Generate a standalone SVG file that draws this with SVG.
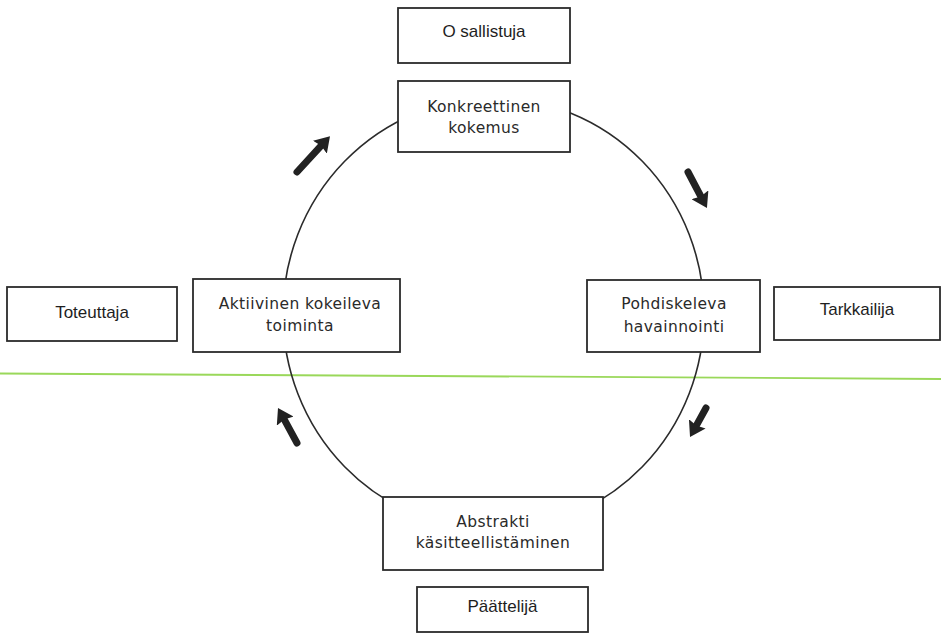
<svg xmlns="http://www.w3.org/2000/svg" width="941" height="642" viewBox="0 0 941 642">
  <style>
    .box { fill: #ffffff; stroke: #2b2b2b; stroke-width: 1.8; }
    .stage { font-family: "DejaVu Sans", "Liberation Sans", sans-serif; font-size: 15.5px; letter-spacing: 0.4px; fill: #2a2a2a; text-anchor: middle; }
    .role { font-family: "Liberation Sans", Arial, sans-serif; font-size: 17px; fill: #1e1e1e; text-anchor: middle; }
    .cycle { fill: none; stroke: #2b2b2b; stroke-width: 1.6; }
    .arrow { stroke: #222222; stroke-width: 7; stroke-linecap: round; marker-end: url(#head); }
  </style>
  <defs>
    <marker id="head" viewBox="0 0 15 19" refX="2" refY="9.5" markerWidth="15" markerHeight="19" markerUnits="userSpaceOnUse" orient="auto">
      <path d="M0,0 L15,9.5 L0,19 L2,9.5 z" fill="#222222"/>
    </marker>
  </defs>

  <rect x="0" y="0" width="941" height="642" fill="#ffffff"/>

  <!-- horizontal guide line -->
  <line x1="0" y1="373.5" x2="941" y2="379" stroke="#9ad85a" stroke-width="1.8"/>

  <!-- cycle and direction arrows -->
  <g id="connectors">
    <ellipse class="cycle" cx="493.5" cy="314" rx="210.5" ry="216"/>
    <line class="arrow" x1="297" y1="172" x2="321.2" y2="145.7"/>
    <line class="arrow" x1="688" y1="172" x2="700.9" y2="196.5"/>
    <line class="arrow" x1="706" y1="408" x2="696.3" y2="425.6"/>
    <line class="arrow" x1="297" y1="443" x2="284.2" y2="419.4"/>
  </g>

  <g id="osallistuja">
    <rect class="box" x="398" y="8" width="172" height="55"/>
    <text class="role" x="484" y="37">O sallistuja</text>
  </g>

  <g id="konkreettinen-kokemus">
    <rect class="box" x="398" y="81" width="172" height="71"/>
    <text class="stage" x="484" y="112">Konkreettinen</text>
    <text class="stage" x="484" y="133">kokemus</text>
  </g>

  <g id="toteuttaja">
    <rect class="box" x="7" y="287" width="170" height="54"/>
    <text class="role" x="92" y="318">Toteuttaja</text>
  </g>

  <g id="aktiivinen-kokeileva-toiminta">
    <rect class="box" x="193" y="279" width="207" height="73"/>
    <text class="stage" x="300" y="309">Aktiivinen kokeileva</text>
    <text class="stage" x="300" y="331">toiminta</text>
  </g>

  <g id="pohdiskeleva-havainnointi">
    <rect class="box" x="587" y="280" width="173" height="72"/>
    <text class="stage" x="674" y="309">Pohdiskeleva</text>
    <text class="stage" x="674" y="332">havainnointi</text>
  </g>

  <g id="tarkkailija">
    <rect class="box" x="774" y="287" width="166" height="53"/>
    <text class="role" x="857" y="315">Tarkkailija</text>
  </g>

  <g id="abstrakti-kasitteellistaminen">
    <rect class="box" x="383" y="497" width="220" height="73"/>
    <text class="stage" x="493" y="527">Abstrakti</text>
    <text class="stage" x="493" y="548">käsitteellistäminen</text>
  </g>

  <g id="paattelija">
    <rect class="box" x="417" y="587" width="171" height="45"/>
    <text class="role" x="502.5" y="612">Päättelijä</text>
  </g>
</svg>
